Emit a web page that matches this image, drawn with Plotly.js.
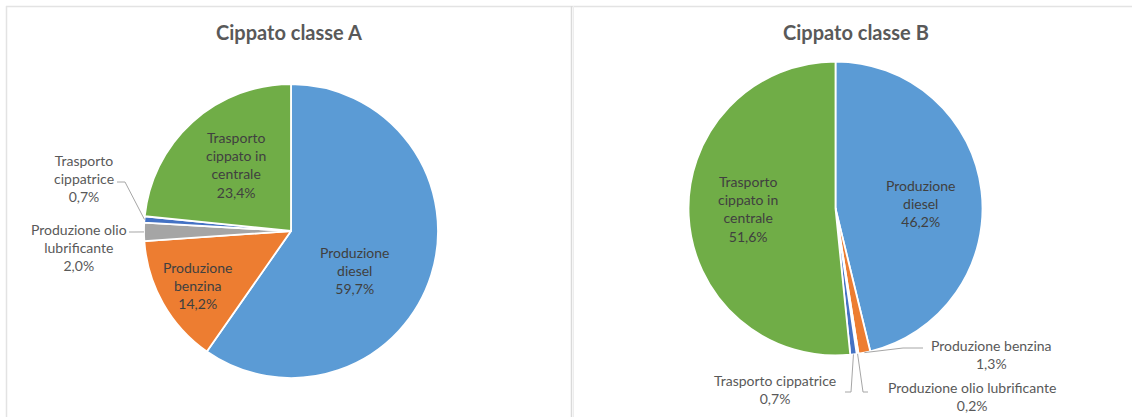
<!DOCTYPE html>
<html>
<head>
<meta charset="utf-8">
<script src="https://cdn.plot.ly/plotly-3.0.1.min.js"></script>
<style>html,body{margin:0;padding:0;background:#fff;}#chart{width:1132px;height:417px;}</style>
</head>
<body>
<div id="chart"></div>
<script>
// ---- data ----
const categories = ['Produzione diesel', 'Produzione benzina', 'Produzione olio lubrificante', 'Trasporto cippatrice', 'Trasporto cippato in centrale'];
const valuesA = [59.7, 14.2, 2.0, 0.7, 23.4];
const valuesB = [46.2, 1.3, 0.2, 0.7, 51.6];
const titleA = 'Cippato classe A';
const titleB = 'Cippato classe B';
const labelTextA = ['Produzione<br>diesel', 'Produzione<br>benzina', 'Produzione olio<br>lubrificante', 'Trasporto<br>cippatrice', 'Trasporto<br>cippato in<br>centrale'];
const labelTextB = ['Produzione<br>diesel', 'Produzione benzina', 'Produzione olio lubrificante', 'Trasporto cippatrice', 'Trasporto<br>cippato in<br>centrale'];

// ---- styles / layout ----
const colors = ['#5B9BD5', '#ED7D31', '#A5A5A5', '#4472C4', '#70AD47'];
const W = 1132, H = 417;
const FONT = 'Lato, "Open Sans", sans-serif';
const pieA = {cx: 291, cy: 231, r: 147};
const pieB = {cx: 835.5, cy: 208.5, r: 147};
const labelPosA = [[355, 270], [198, 285], [79, 247], [84, 178], [236, 165]];
const labelPosB = [[921, 203], [991, 354], [972, 396], [775, 389], [748, 209]];
const labelColorA = ['#404040', '#404040', '#595959', '#595959', '#404040'];
const labelColorB = ['#404040', '#595959', '#595959', '#595959', '#404040'];
// leader lines: fixed text-side points, slice-side point computed from data
const leadersA = [{i: 3, pts: [[117, 182], [125, 182]]}, {i: 2, pts: [[129, 232], [135, 232]]}];
const leadersB = [{i: 1, pts: [[923, 348], [903, 348]]}, {i: 2, pts: [[868, 392], [863, 392]]}, {i: 3, pts: [[845, 392], [851, 392]]}];

const px = x => x / W;
const py = y => 1 - y / H;

function domainOf(p) {
  return {x: [px(p.cx - p.r), px(p.cx + p.r)], y: [py(p.cy + p.r), py(p.cy - p.r)]};
}
function fmt(v) { return v.toFixed(1).replace('.', ',') + '%'; }
function midPoint(values, i, p) {
  const tot = values.reduce((a, b) => a + b, 0);
  let cum = 0;
  for (let k = 0; k < i; k++) cum += values[k];
  const frac = (cum + values[i] / 2) / tot;
  const th = frac * 2 * Math.PI;
  return [p.cx + p.r * Math.sin(th), p.cy - p.r * Math.cos(th)];
}

function pieTrace(values, p) {
  return {
    type: 'pie', labels: categories, values: values, sort: false,
    direction: 'clockwise', rotation: 0, domain: domainOf(p),
    marker: {colors: colors, line: {color: '#FFFFFF', width: 1.8}},
    textinfo: 'none', showlegend: false, hoverinfo: 'label+percent'
  };
}

const annotations = [];
const shapes = [];
function addLabels(values, texts, pos, cols) {
  values.forEach((v, i) => {
    annotations.push({
      xref: 'paper', yref: 'paper', x: px(pos[i][0]), y: py(pos[i][1]),
      xanchor: 'center', yanchor: 'middle', showarrow: false, align: 'center',
      text: texts[i] + '<br>' + fmt(v),
      font: {family: FONT, size: 14, color: cols[i]}
    });
  });
}
function addLeaders(values, leaders, p) {
  leaders.forEach(l => {
    const end = midPoint(values, l.i, p);
    const pts = l.pts.concat([end]);
    const path = pts.map((q, k) => (k ? 'L' : 'M') + px(q[0]) + ',' + py(q[1])).join(' ');
    shapes.push({type: 'path', xref: 'paper', yref: 'paper', path: path,
      line: {color: '#A6A6A6', width: 1}});
  });
}
addLabels(valuesA, labelTextA, labelPosA, labelColorA);
addLabels(valuesB, labelTextB, labelPosB, labelColorB);
addLeaders(valuesA, leadersA, pieA);
addLeaders(valuesB, leadersB, pieB);

annotations.push({xref: 'paper', yref: 'paper', x: px(289), y: py(32), xanchor: 'center', yanchor: 'middle',
  showarrow: false, text: '<b>' + titleA + '</b>', font: {family: FONT, size: 20, color: '#595959'}});
annotations.push({xref: 'paper', yref: 'paper', x: px(856), y: py(32), xanchor: 'center', yanchor: 'middle',
  showarrow: false, text: '<b>' + titleB + '</b>', font: {family: FONT, size: 20, color: '#595959'}});

// panel frames
shapes.push({type: 'line', xref: 'paper', yref: 'paper', x0: px(6), x1: 1, y0: py(6.5), y1: py(6.5), line: {color: '#E3E3E3', width: 1.5}});
shapes.push({type: 'line', xref: 'paper', yref: 'paper', x0: px(6.5), x1: px(6.5), y0: py(6), y1: 0, line: {color: '#E3E3E3', width: 1.5}});
shapes.push({type: 'line', xref: 'paper', yref: 'paper', x0: px(571.5), x1: px(571.5), y0: py(6), y1: 0, line: {color: '#DADADA', width: 1.5}});
shapes.push({type: 'line', xref: 'paper', yref: 'paper', x0: px(573.5), x1: px(573.5), y0: py(6), y1: 0, line: {color: '#EDEDED', width: 1}});

const layout = {
  width: W, height: H, margin: {l: 0, r: 0, t: 0, b: 0},
  paper_bgcolor: '#FFFFFF', plot_bgcolor: '#FFFFFF',
  font: {family: FONT},
  annotations: annotations, shapes: shapes, showlegend: false
};
Plotly.newPlot('chart', [pieTrace(valuesA, pieA), pieTrace(valuesB, pieB)], layout, {displayModeBar: false, staticPlot: true});
</script>
</body>
</html>
